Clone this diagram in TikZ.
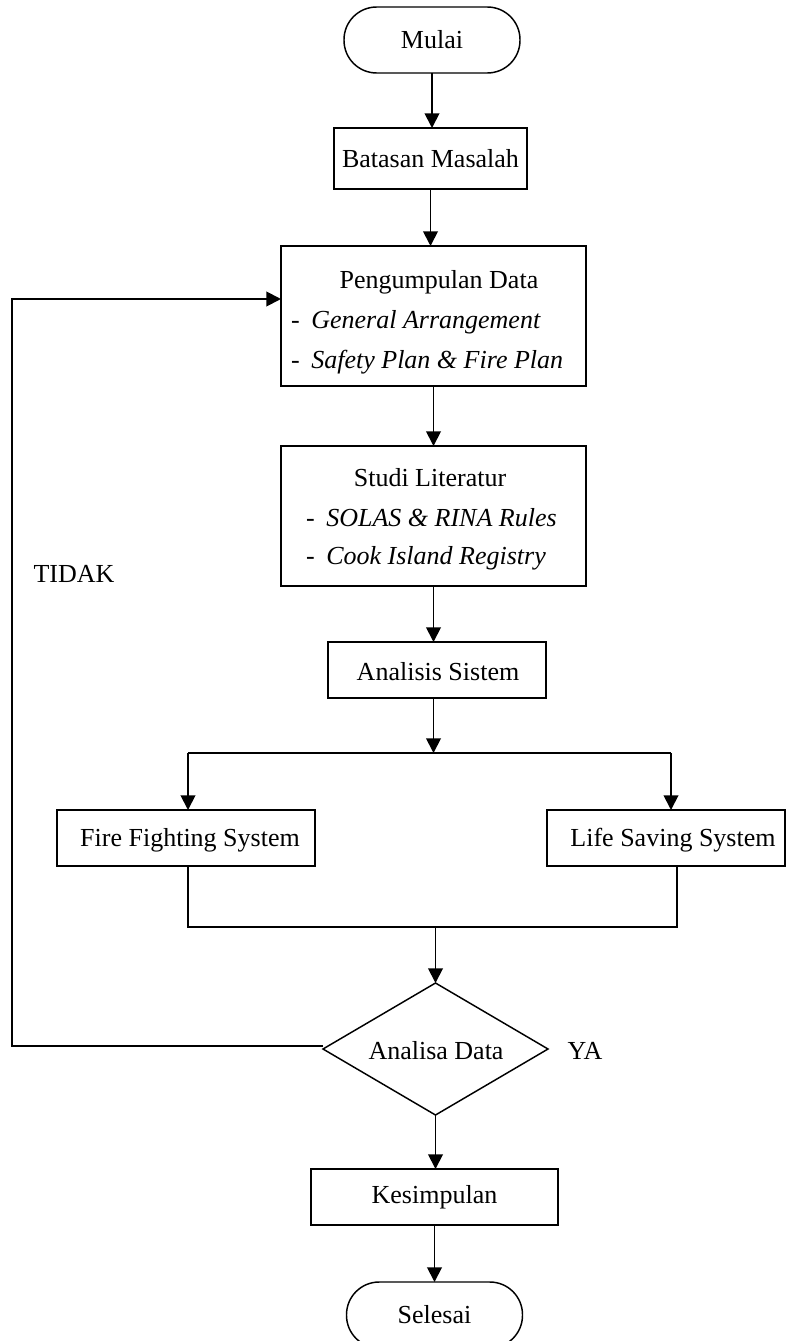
\documentclass[tikz,border=0pt]{standalone}
\usepackage{fontspec}
\setmainfont{Liberation Serif}
\usetikzlibrary{shapes.geometric,arrows.meta,calc}
\begin{document}
\begin{tikzpicture}[x=0.75pt,y=-0.75pt,
  every node/.style={font=\fontsize{19.5pt}{23pt}\selectfont, inner sep=0pt, outer sep=0pt},
  box/.style={draw, line width=1.1pt, rectangle, align=center},
  term/.style={draw, line width=1.1pt, rectangle, rounded corners=24.5pt, minimum width=132pt, minimum height=49.5pt},
  dec/.style={draw, line width=1.1pt, diamond, aspect=1.7, minimum width=168.75pt, minimum height=99pt},
  lbl/.style={anchor=center},
  item/.style={anchor=west},
  arr/.style={line width=1.4pt, -{Triangle[length=11pt,width=11pt]}},
  ln/.style={line width=1.4pt}]
\useasboundingbox (0,0) rectangle (786,1341);

% nodes
\node[term] (mulai) at (432,40) {Mulai};
\node[box, minimum width=144.75pt, minimum height=45.75pt] (batasan) at (430.5,158.5) {Batasan Masalah};
\node[box, minimum width=228.75pt, minimum height=105pt] (peng) at (433.5,316) {};
\node[lbl] (pengt) at (439,282) {Pengumpulan Data};
\node[item] (peng1) at (291,322) {-\hspace{0.45em}\textit{General Arrangement}};
\node[item] (peng2) at (291,362) {-\hspace{0.45em}\textit{Safety Plan \& Fire Plan}};

\node[box, minimum width=228.75pt, minimum height=105pt] (studi) at (433.5,516) {};
\node[lbl] (studit) at (430,478) {Studi Literatur};
\node[item] (studi1) at (306,518) {-\hspace{0.45em}\textit{SOLAS \& RINA Rules}};
\node[item] (studi2) at (306,558) {-\hspace{0.45em}\textit{Cook Island Registry}};

\node[box, minimum width=163.5pt, minimum height=42pt] (analisis) at (437,670) {};
\node[lbl] (analisist) at (438,672) {Analisis Sistem};

\node[box, minimum width=193.5pt, minimum height=42pt] (fire) at (186,838) {};
\node[lbl] (firet) at (190,840) {Fire Fighting System};
\node[box, minimum width=178.5pt, minimum height=42pt] (life) at (666,838) {};
\node[lbl] (lifet) at (673,840) {Life Saving System};

\node[dec] (dec) at (435.5,1049) {};
\node[lbl] (dect) at (436,1051) {Analisa Data};

\node[box, minimum width=185.25pt, minimum height=42pt] (kes) at (434.5,1197) {Kesimpulan};
\node[term] (selesai) at (434.5,1315) {Selesai};

\node[lbl] (tidak) at (74,574) {TIDAK};
\node[lbl] (ya) at (585,1051) {YA};

% connectors
\draw[arr] (mulai.south) -- (mulai.south |- batasan.north);
\draw[arr] (batasan.south) -- (batasan.south |- peng.north);
\draw[arr] (peng.south) -- (peng.south |- studi.north);
\draw[arr] (studi.south) -- (studi.south |- analisis.north);

\coordinate (sp) at (433.5,753);
\draw[arr] (analisis.south -| sp) -- (sp);
\coordinate (fa) at (188,753);
\coordinate (la) at (671,753);
\draw[ln] (fa) -- (la);
\draw[arr] (fa) -- (fa |- fire.north);
\draw[arr] (la) -- (la |- life.north);

\coordinate (fm) at (188,927);
\coordinate (lm) at (677,927);
\coordinate (mg) at (435.5,927);
\draw[ln] (fm |- fire.south) -- (fm) -- (lm) -- (lm |- life.south);
\draw[arr] (mg) -- (dec.north);

\coordinate (loopb) at (12,1046);
\coordinate (loopt) at (12,299);
\draw[arr] (dec.west |- loopb) -- (loopb) -- (loopt) -- (loopt -| peng.west);

\draw[arr] (dec.south) -- (dec.south |- kes.north);
\draw[arr] (kes.south) -- (kes.south |- selesai.north);
\end{tikzpicture}
\end{document}
